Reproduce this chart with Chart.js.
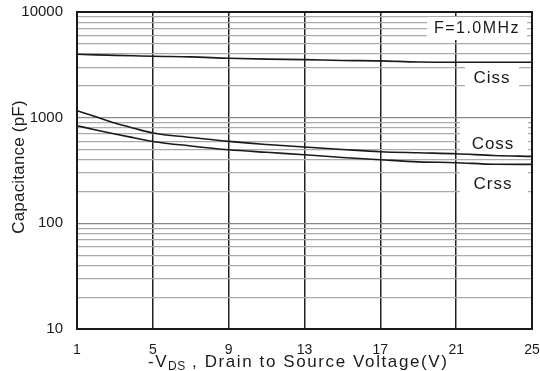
<!DOCTYPE html>
<html>
<head>
<meta charset="utf-8">
<script src="https://cdn.jsdelivr.net/npm/chart.js@4/dist/chart.umd.min.js"></script>
<style>
  html, body { margin: 0; padding: 0; background: #fff; }
  #wrap { width: 540px; height: 371px; position: relative; }
</style>
</head>
<body>
<div id="wrap"><canvas id="c" width="540" height="371"></canvas></div>
<script>
// ---- data ----
const vds  = [1, 2, 3, 4, 5, 7, 9, 11, 13, 15, 17, 19, 21, 23, 25];
const ciss = [3980, 3930, 3890, 3850, 3810, 3760, 3650, 3580, 3545, 3480, 3450, 3360, 3345, 3345, 3345];
const coss = [1165, 1020, 890, 795, 716, 650, 596, 558, 527, 500, 476, 465, 456, 438, 430];
const crss = [840, 765, 700, 645, 596, 540, 497, 470, 446, 420, 400, 382, 375, 362, 361];
const xTicks = [1, 5, 9, 13, 17, 21, 25];
const yTicks = [10, 100, 1000, 10000];
const seriesNames = ['Ciss', 'Coss', 'Crss'];
const freqLabel = 'F=1.0MHz';
const yTitle = 'Capacitance (pF)';

const FONT = "'Liberation Sans', Arial, sans-serif";
const INK = '#1a1a1a';

function mkSet(label, vals) {
  return {
    label: label,
    data: vds.map((x, i) => ({ x: x, y: vals[i] })),
    borderColor: INK,
    borderWidth: 1.6,
    pointRadius: 0,
    fill: false,
    cubicInterpolationMode: 'monotone'
  };
}

function zeroPad(scale) {
  scale.paddingTop = 0; scale.paddingBottom = 0;
  scale.paddingLeft = 0; scale.paddingRight = 0;
}

const decor = {
  id: 'decor',
  beforeDatasetsDraw(chart) {
    const ctx = chart.ctx;
    ctx.save();
    const boxes = [
      { t: freqLabel, x0: 427, x1: 527, y0: 17, y1: 40, cx: 477, cy: 29, ls: 1.5, size: 16 },
      { t: seriesNames[0], x0: 465, x1: 519, y0: 64, y1: 93, cx: 492, cy: 78, ls: 1, size: 17 },
      { t: seriesNames[1], x0: 460, x1: 528, y0: 120, y1: 152, cx: 493, cy: 144, ls: 1, size: 17 },
      { t: seriesNames[2], x0: 460, x1: 528, y0: 166, y1: 198, cx: 493, cy: 184, ls: 1, size: 17 }
    ];
    boxes.forEach(b => {
      ctx.fillStyle = '#fff';
      ctx.fillRect(b.x0, b.y0, b.x1 - b.x0, b.y1 - b.y0);
      ctx.fillStyle = INK;
      ctx.font = b.size + 'px ' + FONT;
      if ('letterSpacing' in ctx) ctx.letterSpacing = b.ls + 'px';
      ctx.textAlign = 'center';
      ctx.textBaseline = 'middle';
      ctx.fillText(b.t, b.cx, b.cy);
    });
    if ('letterSpacing' in ctx) ctx.letterSpacing = '0px';
    ctx.restore();
  },
  afterDatasetsDraw(chart) {
    const ctx = chart.ctx, a = chart.chartArea;
    ctx.save();
    ctx.strokeStyle = INK;
    ctx.lineWidth = 2;
    ctx.strokeRect(a.left, a.top, a.right - a.left, a.bottom - a.top);
    ctx.restore();
  },
  afterDraw(chart) {
    const ctx = chart.ctx;
    ctx.save();
    ctx.fillStyle = INK;
    ctx.textBaseline = 'alphabetic';
    ctx.textAlign = 'left';
    const hasLS = 'letterSpacing' in ctx;
    let x = 148;
    ctx.font = '17px ' + FONT;
    if (hasLS) ctx.letterSpacing = '1.5px';
    ctx.fillText('-V', x, 367);
    x += ctx.measureText('-V').width;
    ctx.font = '12px ' + FONT;
    if (hasLS) ctx.letterSpacing = '0.5px';
    ctx.fillText('DS', x, 370);
    x += ctx.measureText('DS').width;
    ctx.font = '17px ' + FONT;
    if (hasLS) ctx.letterSpacing = '1.6px';
    ctx.fillText(' , Drain to Source Voltage(V)', x, 367);
    if (hasLS) ctx.letterSpacing = '0.2px';
    ctx.translate(24, 167);
    ctx.rotate(-Math.PI / 2);
    ctx.textAlign = 'center';
    ctx.fillText(yTitle, 0, 0);
    ctx.restore();
  }
};

new Chart(document.getElementById('c'), {
  type: 'line',
  data: { datasets: [mkSet(seriesNames[0], ciss), mkSet(seriesNames[1], coss), mkSet(seriesNames[2], crss)] },
  options: {
    responsive: false,
    animation: false,
    layout: { padding: { left: 0, right: 8, top: 12, bottom: 0 } },
    plugins: { legend: { display: false }, tooltip: { enabled: false } },
    scales: {
      x: {
        type: 'linear',
        min: xTicks[0],
        max: xTicks[xTicks.length - 1],
        afterBuildTicks(scale) { scale.ticks = xTicks.map(v => ({ value: v })); },
        afterFit(scale) { scale.height = 42; zeroPad(scale); },
        ticks: {
          autoSkip: false,
          maxRotation: 0,
          padding: 13,
          color: INK,
          font: { family: FONT, size: 14 },
          callback: v => String(v)
        },
        grid: { color: '#222', lineWidth: 1.5, drawTicks: false },
        border: { display: false }
      },
      y: {
        type: 'logarithmic',
        min: yTicks[0],
        max: yTicks[yTicks.length - 1],
        afterBuildTicks(scale) {
          const t = [];
          for (let d = yTicks[0]; d < yTicks[yTicks.length - 1]; d *= 10) {
            for (let k = 1; k <= 9; k++) t.push({ value: k * d });
          }
          t.push({ value: yTicks[yTicks.length - 1] });
          scale.ticks = t;
        },
        afterFit(scale) { scale.width = 77; zeroPad(scale); },
        ticks: {
          autoSkip: false,
          padding: 14,
          color: INK,
          font: { family: FONT, size: 15 },
          callback: v => (yTicks.includes(v) ? String(v) : '')
        },
        grid: {
          drawTicks: false,
          color: c => (c.tick && yTicks.includes(c.tick.value) ? '#888' : '#aaa'),
          lineWidth: 1.2
        },
        border: { display: false }
      }
    }
  },
  plugins: [decor]
});
</script>
</body>
</html>
